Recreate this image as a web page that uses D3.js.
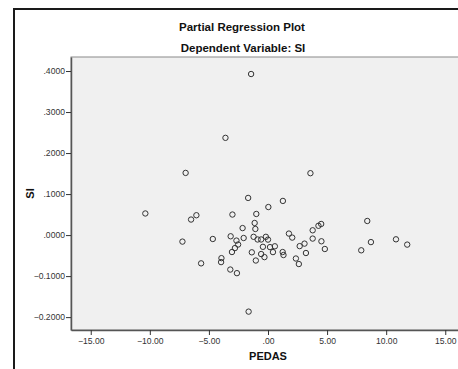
<!DOCTYPE html>
<html>
<head>
<meta charset="utf-8">
<script src="https://cdn.jsdelivr.net/npm/d3@7"></script>
<style>
  html, body { margin: 0; padding: 0; background: #fff; }
  svg { display: block; font-family: Arial, "Liberation Sans", sans-serif; }
</style>
</head>
<body>
<svg id="chart" width="458" height="369"></svg>
<script>
// Partial regression residuals: PEDAS (x) against SI (y)
const pedas = [
  -1.43, -3.60, -6.97, 3.59, -1.68, 1.26, 0.03, -10.38, -6.06, -6.51,
  -3.01, -0.99, -1.13, -2.15, -1.07, 8.40, 4.50, 4.27, 3.78, 1.77,
  2.05, 3.78, 4.52, 4.81, 3.09, 2.68, 3.21, 2.36, 2.61, 8.71,
  7.89, 10.83, 11.78, -7.24, -4.67, -3.16, -2.06, -2.67, -2.53, -2.80,
  -3.05, -1.22, -0.88, -0.58, -0.18, 0.00, -0.43, 0.17, 0.58, 0.42,
  1.24, 1.31, -1.37, -0.58, -0.30, -1.03, -5.66, -3.94, -3.97, -3.19,
  -2.63, -1.64
];
const si = [
  0.3927, 0.2371, 0.1516, 0.1509, 0.0906, 0.0833, 0.0684, 0.0527, 0.0484, 0.0379,
  0.0501, 0.0515, 0.0295, 0.0171, 0.0149, 0.0344, 0.0271, 0.0227, 0.0117, 0.0037,
  -0.0061, -0.0085, -0.0151, -0.0339, -0.0208, -0.0269, -0.0437, -0.0571, -0.0706, -0.0171,
  -0.0371, -0.0103, -0.0232, -0.0159, -0.0095, -0.0029, -0.0071, -0.0134, -0.0230, -0.0317,
  -0.0413, -0.0042, -0.0107, -0.0107, -0.0042, -0.0110, -0.0286, -0.0293, -0.0273, -0.0415,
  -0.0413, -0.0486, -0.0420, -0.0462, -0.0537, -0.0620, -0.0689, -0.0562, -0.0659, -0.0840,
  -0.0928, -0.1866
];
const xTicks = [-15, -10, -5, 0, 5, 10, 15];
const yTicks = [-0.2, -0.1, 0, 0.1, 0.2, 0.3, 0.4];
const titleText = "Partial Regression Plot";
const subtitleText = "Dependent Variable: SI";
const xLabel = "PEDAS";
const yLabel = "SI";

const svg = d3.select("#chart");

// outer chart frame (runs past the right and bottom edges)
svg.append("path")
  .attr("d", "M14,380 L14,9 L480,9")
  .attr("fill", "none").attr("stroke", "#1a1a1a").attr("stroke-width", 2);

const plot = { left: 71, top: 57, right: 465, bottom: 330 };

const x = d3.scaleLinear().domain([-16.67, 16.67]).range([plot.left, plot.right]);
const y = d3.scaleLinear().domain([-0.2314, 0.4342]).range([plot.bottom, plot.top]);

// plot background
svg.append("rect")
  .attr("x", plot.left).attr("y", plot.top)
  .attr("width", plot.right - plot.left).attr("height", plot.bottom - plot.top)
  .attr("fill", "#f0f0f0").attr("stroke", "#8a8a8a").attr("stroke-width", 1);

// number formats like ".4000", "-.1000", "-15.00", ".00"
const fmtY = v => d3.format(".4f")(v).replace(/^(-?)0\./, "$1.");
const fmtX = v => d3.format(".2f")(v).replace(/^(-?)0\./, "$1.");

const xAxis = svg.append("g")
  .attr("transform", `translate(0,${plot.bottom})`)
  .call(d3.axisBottom(x).tickValues(xTicks).tickFormat(fmtX).tickSize(5).tickSizeOuter(0));
const yAxis = svg.append("g")
  .attr("transform", `translate(${plot.left},0)`)
  .call(d3.axisLeft(y).tickValues(yTicks).tickFormat(fmtY).tickSize(5).tickSizeOuter(0));

[xAxis, yAxis].forEach(g => {
  g.select(".domain").attr("stroke", "#555").attr("stroke-width", 1.5);
  g.selectAll(".tick line").attr("stroke", "#333");
  g.selectAll(".tick text")
    .attr("fill", "#333")
    .style("font-size", "8.6px")
    .style("font-family", "Arial, 'Liberation Sans', sans-serif");
});
xAxis.selectAll(".tick text").attr("dy", "0.95em").attr("y", 6);
yAxis.selectAll(".tick text").attr("x", -6);

// points
svg.append("g").selectAll("circle")
  .data(d3.range(pedas.length))
  .join("circle")
  .attr("cx", i => x(pedas[i]))
  .attr("cy", i => y(si[i]))
  .attr("r", 2.7)
  .attr("fill", "none")
  .attr("stroke", "#333")
  .attr("stroke-width", 1);

// titles
svg.append("text")
  .attr("x", 242).attr("y", 31)
  .attr("text-anchor", "middle")
  .style("font-size", "11.5px").style("font-weight", "bold").attr("fill", "#111")
  .text(titleText);
svg.append("text")
  .attr("x", 243).attr("y", 52)
  .attr("text-anchor", "middle")
  .style("font-size", "11.5px").style("font-weight", "bold").attr("fill", "#111")
  .text(subtitleText);

// axis titles
svg.append("text")
  .attr("x", (plot.left + plot.right) / 2).attr("y", 360)
  .attr("text-anchor", "middle")
  .style("font-size", "11px").style("font-weight", "bold").attr("fill", "#111")
  .text(xLabel);
svg.append("text")
  .attr("transform", `translate(34,${(plot.top + plot.bottom) / 2}) rotate(-90)`)
  .attr("text-anchor", "middle")
  .style("font-size", "11px").style("font-weight", "bold").attr("fill", "#111")
  .text(yLabel);
</script>
</body>
</html>
